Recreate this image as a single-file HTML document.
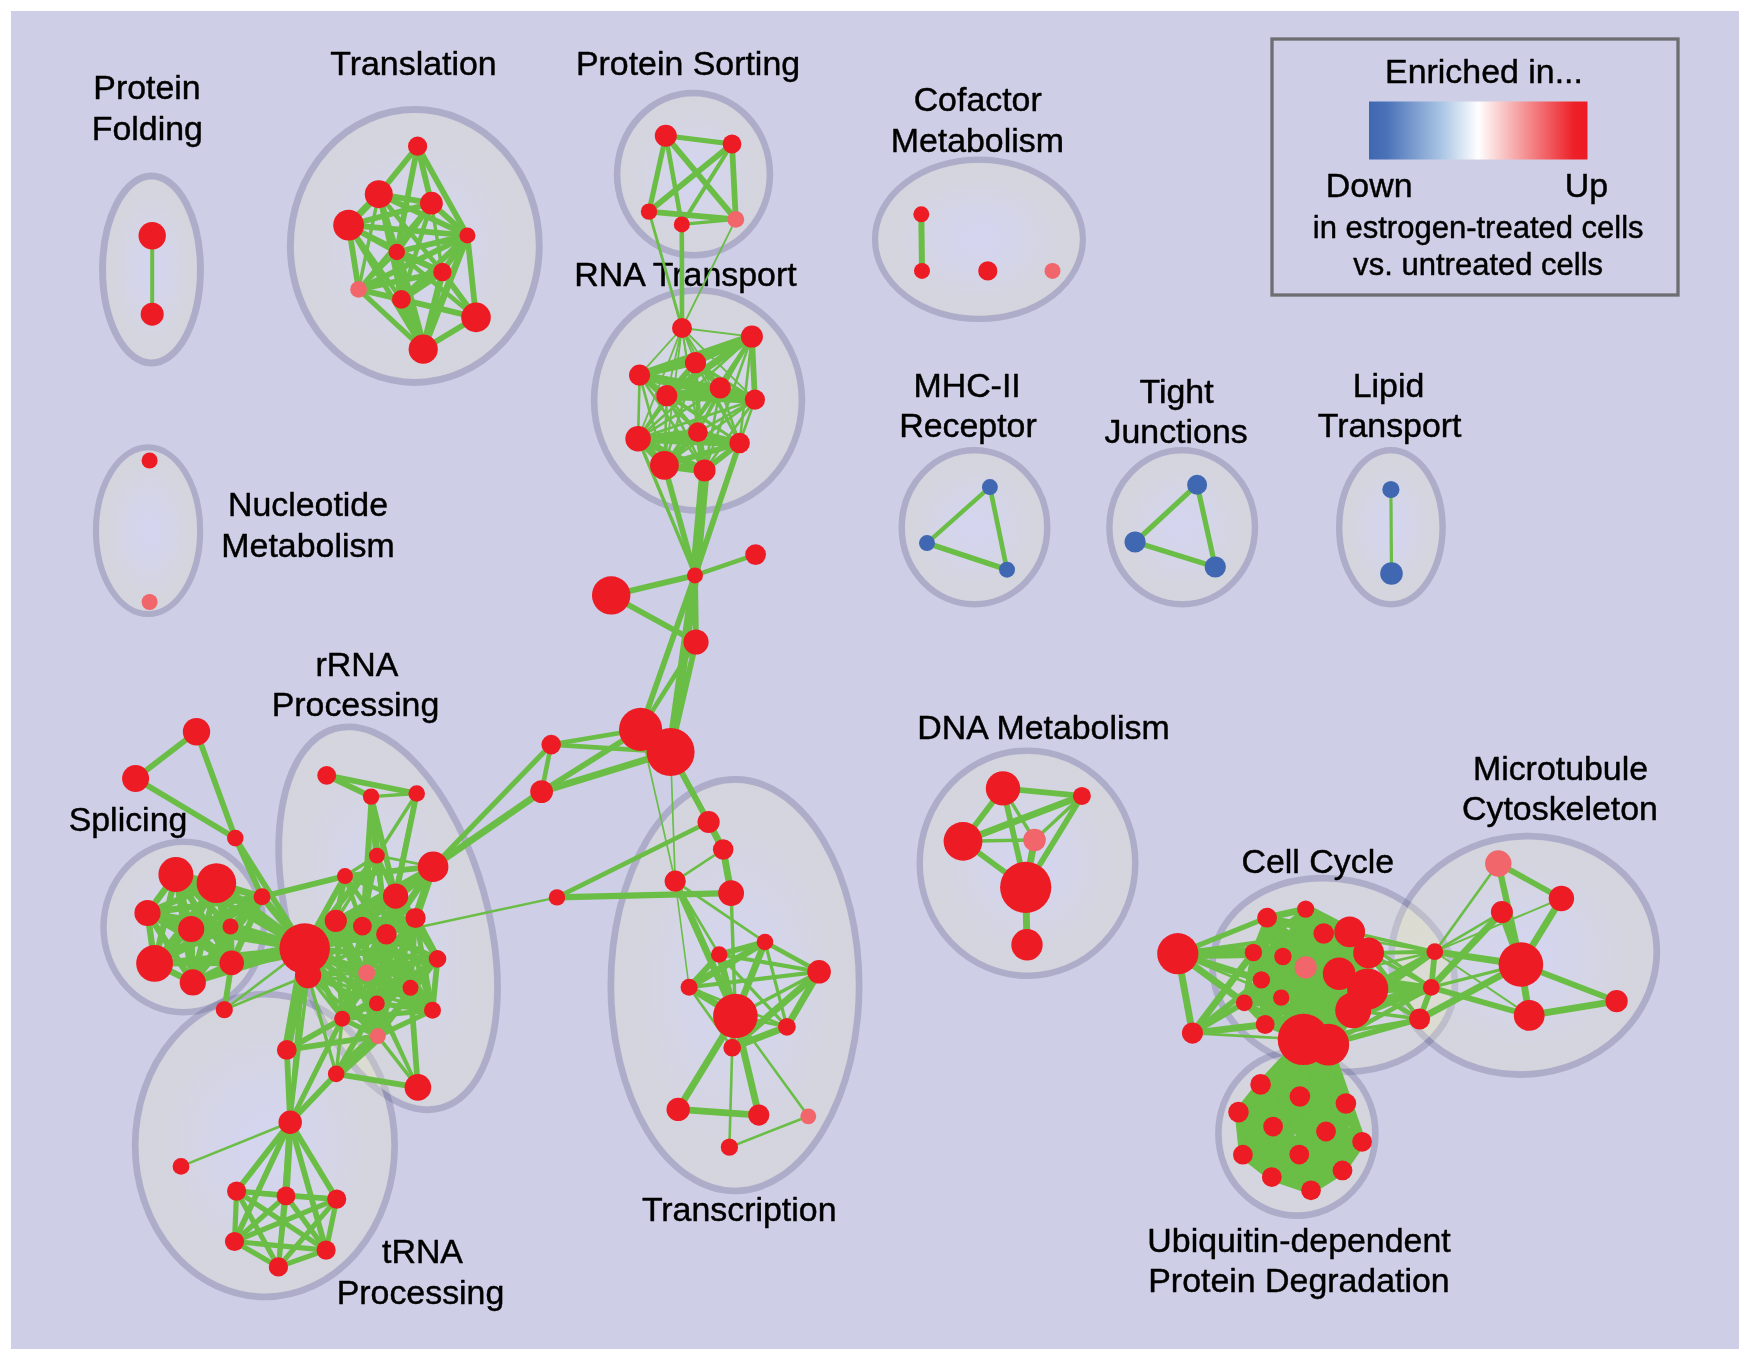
<!DOCTYPE html>
<html><head><meta charset="utf-8"><title>Enrichment map</title>
<style>
html,body{margin:0;padding:0;background:#fff;}
body{width:1750px;height:1360px;overflow:hidden;font-family:"Liberation Sans",sans-serif;}
svg{display:block;will-change:transform;}
</style></head><body>
<svg width="1750" height="1360" viewBox="0 0 1750 1360">
<defs>
<radialGradient id="eg" cx="50%" cy="50%" r="50%">
<stop offset="0" stop-color="#e2e6ff" stop-opacity="0.3"/>
<stop offset="0.2" stop-color="#e2e6ff" stop-opacity="0.3"/>
<stop offset="0.85" stop-color="#e4e4cc" stop-opacity="0.3"/>
<stop offset="1" stop-color="#e4e4cc" stop-opacity="0.3"/>
</radialGradient>
<linearGradient id="lg" x1="0" y1="0" x2="1" y2="0">
<stop offset="0" stop-color="#3f68b1"/>
<stop offset="0.08" stop-color="#4a72b8"/>
<stop offset="0.33" stop-color="#a9c4e4"/>
<stop offset="0.5" stop-color="#ffffff"/>
<stop offset="0.67" stop-color="#f6a9a9"/>
<stop offset="0.94" stop-color="#ed1f27"/>
<stop offset="1" stop-color="#ed1c24"/>
</linearGradient>
</defs>
<rect x="0" y="0" width="1750" height="1360" fill="#ffffff"/>
<rect x="11" y="11" width="1728" height="1338" fill="#cecee6"/>
<g fill="none" stroke="#60608c" stroke-opacity="0.3">
<ellipse cx="151.5" cy="269.5" rx="48.90" ry="93.40" stroke-width="7.0"/>
<ellipse cx="414.8" cy="246.0" rx="124.40" ry="136.40" stroke-width="7.0"/>
<ellipse cx="693.5" cy="174.2" rx="76.35" ry="81.05" stroke-width="6.7"/>
<ellipse cx="698.0" cy="400.4" rx="103.85" ry="110.05" stroke-width="6.7"/>
<ellipse cx="978.95" cy="239.35" rx="103.90" ry="79.60" stroke-width="6.3"/>
<ellipse cx="148.05" cy="530.7" rx="52.05" ry="83.30" stroke-width="6.2"/>
<ellipse cx="974.5" cy="527.3" rx="72.75" ry="76.95" stroke-width="6.5"/>
<ellipse cx="1182.2" cy="527.3" rx="72.75" ry="76.95" stroke-width="6.5"/>
<ellipse cx="1390.9" cy="527.3" rx="51.65" ry="76.95" stroke-width="6.5"/>
<ellipse cx="1027.5" cy="863.2" rx="107.75" ry="112.55" stroke-width="6.5"/>
<ellipse cx="735.0" cy="985.2" rx="124.10" ry="205.70" stroke-width="6.8"/>
<ellipse cx="183.6" cy="927.0" rx="80.05" ry="85.15" stroke-width="6.5"/>
<ellipse cx="388.1" cy="918.3" rx="99.10" ry="196.90" stroke-width="6.9" transform="rotate(-15.76 388.1 918.3)"/>
<ellipse cx="264.9" cy="1145.5" rx="129.70" ry="151.30" stroke-width="6.8"/>
<ellipse cx="1333.7" cy="975.05" rx="122.00" ry="95.90" stroke-width="6.8" transform="rotate(10.6 1333.7 975.05)"/>
<ellipse cx="1524.0" cy="955.3" rx="132.95" ry="118.90" stroke-width="6.8" transform="rotate(-7.8 1524.0 955.3)"/>
<ellipse cx="1296.9" cy="1133.5" rx="78.45" ry="82.05" stroke-width="6.7"/>
</g>
<g fill="url(#eg)" stroke="none">
<ellipse cx="151.5" cy="269.5" rx="45.55" ry="90.05"/>
<ellipse cx="414.8" cy="246.0" rx="121.05" ry="133.05"/>
<ellipse cx="693.5" cy="174.2" rx="73.15" ry="77.85"/>
<ellipse cx="698.0" cy="400.4" rx="100.65" ry="106.85"/>
<ellipse cx="978.95" cy="239.35" rx="100.90" ry="76.60"/>
<ellipse cx="148.05" cy="530.7" rx="49.10" ry="80.35"/>
<ellipse cx="974.5" cy="527.3" rx="69.65" ry="73.85"/>
<ellipse cx="1182.2" cy="527.3" rx="69.65" ry="73.85"/>
<ellipse cx="1390.9" cy="527.3" rx="48.55" ry="73.85"/>
<ellipse cx="1027.5" cy="863.2" rx="104.65" ry="109.45"/>
<ellipse cx="735.0" cy="985.2" rx="120.85" ry="202.45"/>
<ellipse cx="183.6" cy="927.0" rx="76.95" ry="82.05"/>
<ellipse cx="388.1" cy="918.3" rx="95.80" ry="193.60" transform="rotate(-15.76 388.1 918.3)"/>
<ellipse cx="264.9" cy="1145.5" rx="126.45" ry="148.05"/>
<ellipse cx="1333.7" cy="975.05" rx="118.75" ry="92.65" transform="rotate(10.6 1333.7 975.05)"/>
<ellipse cx="1524.0" cy="955.3" rx="129.70" ry="115.65" transform="rotate(-7.8 1524.0 955.3)"/>
<ellipse cx="1296.9" cy="1133.5" rx="75.25" ry="78.85"/>
</g>
<clipPath id="cp0"><ellipse cx="1333.7" cy="975.05" rx="118.60" ry="92.50" transform="rotate(10.6 1333.7 975.05)"/></clipPath>
<g clip-path="url(#cp0)"><ellipse cx="1524.0" cy="955.3" rx="129.55" ry="115.50" transform="rotate(-7.8 1524.0 955.3)" fill="#e8e8a8" fill-opacity="0.14"/></g>
<clipPath id="cp1"><ellipse cx="388.1" cy="918.3" rx="95.65" ry="193.45" transform="rotate(-15.76 388.1 918.3)"/></clipPath>
<g clip-path="url(#cp1)"><ellipse cx="264.9" cy="1145.5" rx="126.30" ry="147.90" fill="#e8e8a8" fill-opacity="0.14"/></g>
<clipPath id="cp2"><ellipse cx="1333.7" cy="975.05" rx="118.60" ry="92.50" transform="rotate(10.6 1333.7 975.05)"/></clipPath>
<g clip-path="url(#cp2)"><ellipse cx="1296.9" cy="1133.5" rx="75.10" ry="78.70" fill="#e8e8a8" fill-opacity="0.14"/></g>
<clipPath id="cp3"><ellipse cx="183.6" cy="927.0" rx="76.80" ry="81.90"/></clipPath>
<g clip-path="url(#cp3)"><ellipse cx="264.9" cy="1145.5" rx="126.30" ry="147.90" fill="#e8e8a8" fill-opacity="0.14"/></g>
<clipPath id="cp4"><ellipse cx="183.6" cy="927.0" rx="76.80" ry="81.90"/></clipPath>
<g clip-path="url(#cp4)"><ellipse cx="388.1" cy="918.3" rx="95.65" ry="193.45" transform="rotate(-15.76 388.1 918.3)" fill="#e8e8a8" fill-opacity="0.14"/></g>
<rect x="1272" y="39" width="406" height="256" fill="none" stroke="#6d6e71" stroke-width="3.3"/>
<rect x="1369" y="101.5" width="218.5" height="58" fill="url(#lg)"/>
<g font-family="'Liberation Sans', sans-serif" fill="#000" stroke="#000" stroke-width="0.45" stroke-linejoin="round" text-anchor="middle">
<text x="147.0" y="99.3" font-size="33.9">Protein</text>
<text x="147.3" y="140.0" font-size="33.9">Folding</text>
<text x="413.5" y="75.0" font-size="33.9">Translation</text>
<text x="688.0" y="75.2" font-size="33.9">Protein Sorting</text>
<text x="977.7" y="110.6" font-size="33.9">Cofactor</text>
<text x="977.3" y="151.7" font-size="33.9">Metabolism</text>
<text x="685.5" y="286.0" font-size="33.9">RNA Transport</text>
<text x="967.1" y="397.0" font-size="33.9">MHC-II</text>
<text x="968.0" y="437.4" font-size="33.9">Receptor</text>
<text x="1176.6" y="402.5" font-size="33.9">Tight</text>
<text x="1176.1" y="443.3" font-size="33.9">Junctions</text>
<text x="1388.5" y="397.0" font-size="33.9">Lipid</text>
<text x="1389.6" y="437.4" font-size="33.9">Transport</text>
<text x="308.0" y="516.0" font-size="33.9">Nucleotide</text>
<text x="308.0" y="556.7" font-size="33.9">Metabolism</text>
<text x="357.0" y="676.0" font-size="33.9">rRNA</text>
<text x="355.5" y="716.0" font-size="33.9">Processing</text>
<text x="128.0" y="830.8" font-size="33.9">Splicing</text>
<text x="1043.5" y="738.5" font-size="33.9">DNA Metabolism</text>
<text x="1560.5" y="780.0" font-size="33.9">Microtubule</text>
<text x="1560.0" y="820.0" font-size="33.9">Cytoskeleton</text>
<text x="1317.8" y="872.7" font-size="33.9">Cell Cycle</text>
<text x="739.2" y="1221.0" font-size="33.9">Transcription</text>
<text x="422.5" y="1263.0" font-size="33.9">tRNA</text>
<text x="420.5" y="1304.0" font-size="33.9">Processing</text>
<text x="1299.0" y="1252.0" font-size="33.9">Ubiquitin-dependent</text>
<text x="1299.0" y="1292.0" font-size="33.9">Protein Degradation</text>
<text x="1484.0" y="83.0" font-size="33.9">Enriched in...</text>
<text x="1369.2" y="197.0" font-size="33.9">Down</text>
<text x="1586.4" y="197.0" font-size="33.9">Up</text>
<text x="1478.2" y="238.0" font-size="31.0">in estrogen-treated cells</text>
<text x="1478.2" y="275.0" font-size="31.0">vs. untreated cells</text>
</g>
<g stroke="#6abd45" stroke-linecap="butt" fill="none">
<path d="M675.2 881.2L689.1 987.3" stroke-width="1.56"/>
<path d="M640.6 729.4L675.2 881.2" stroke-width="1.69"/>
<path d="M670.6 752.0L675.2 881.2" stroke-width="1.69"/>
<path d="M735.8 219.4L682.0 328.0" stroke-width="1.82"/>
<path d="M682.0 328.0L751.9 336.6" stroke-width="1.82"/>
<path d="M682.0 328.0L695.5 362.7" stroke-width="1.82"/>
<path d="M682.0 328.0L639.6 375.2" stroke-width="1.82"/>
<path d="M682.0 328.0L720.3 387.9" stroke-width="1.82"/>
<path d="M682.0 328.0L666.8 395.7" stroke-width="1.82"/>
<path d="M682.0 328.0L754.9 399.7" stroke-width="1.82"/>
<path d="M682.0 328.0L697.9 432.2" stroke-width="1.82"/>
<path d="M682.0 328.0L638.1 438.7" stroke-width="1.82"/>
<path d="M682.0 328.0L739.6 443.0" stroke-width="1.82"/>
<path d="M682.0 328.0L664.4 465.3" stroke-width="1.82"/>
<path d="M682.0 328.0L704.6 470.4" stroke-width="1.82"/>
<path d="M1561.4 898.5L1434.8 951.7" stroke-width="1.95"/>
<path d="M1529.2 1015.4L1434.8 951.7" stroke-width="1.95"/>
<path d="M557.0 897.4L386.4 934.3" stroke-width="2.47"/>
<path d="M751.9 336.6L697.9 432.2" stroke-width="2.60"/>
<path d="M751.9 336.6L638.1 438.7" stroke-width="2.60"/>
<path d="M739.6 443.0L751.9 336.6" stroke-width="2.60"/>
<path d="M664.4 465.3L751.9 336.6" stroke-width="2.60"/>
<path d="M704.6 470.4L751.9 336.6" stroke-width="2.60"/>
<path d="M695.5 362.7L697.9 432.2" stroke-width="2.60"/>
<path d="M695.5 362.7L638.1 438.7" stroke-width="2.60"/>
<path d="M739.6 443.0L695.5 362.7" stroke-width="2.60"/>
<path d="M664.4 465.3L695.5 362.7" stroke-width="2.60"/>
<path d="M704.6 470.4L695.5 362.7" stroke-width="2.60"/>
<path d="M639.6 375.2L697.9 432.2" stroke-width="2.60"/>
<path d="M639.6 375.2L638.1 438.7" stroke-width="2.60"/>
<path d="M739.6 443.0L639.6 375.2" stroke-width="2.60"/>
<path d="M664.4 465.3L639.6 375.2" stroke-width="2.60"/>
<path d="M704.6 470.4L639.6 375.2" stroke-width="2.60"/>
<path d="M720.3 387.9L697.9 432.2" stroke-width="2.60"/>
<path d="M720.3 387.9L638.1 438.7" stroke-width="2.60"/>
<path d="M739.6 443.0L720.3 387.9" stroke-width="2.60"/>
<path d="M664.4 465.3L720.3 387.9" stroke-width="2.60"/>
<path d="M704.6 470.4L720.3 387.9" stroke-width="2.60"/>
<path d="M666.8 395.7L697.9 432.2" stroke-width="2.60"/>
<path d="M666.8 395.7L638.1 438.7" stroke-width="2.60"/>
<path d="M739.6 443.0L666.8 395.7" stroke-width="2.60"/>
<path d="M664.4 465.3L666.8 395.7" stroke-width="2.60"/>
<path d="M704.6 470.4L666.8 395.7" stroke-width="2.60"/>
<path d="M754.9 399.7L697.9 432.2" stroke-width="2.60"/>
<path d="M754.9 399.7L638.1 438.7" stroke-width="2.60"/>
<path d="M739.6 443.0L754.9 399.7" stroke-width="2.60"/>
<path d="M664.4 465.3L754.9 399.7" stroke-width="2.60"/>
<path d="M704.6 470.4L754.9 399.7" stroke-width="2.60"/>
<path d="M723.2 849.5L675.2 881.2" stroke-width="2.60"/>
<path d="M675.2 881.2L719.2 954.5" stroke-width="2.60"/>
<path d="M675.2 881.2L765.0 942.0" stroke-width="2.60"/>
<path d="M732.2 1047.7L689.1 987.3" stroke-width="2.60"/>
<path d="M786.9 1026.8L689.1 987.3" stroke-width="2.60"/>
<path d="M732.2 1047.7L729.4 1147.2" stroke-width="2.60"/>
<path d="M808.3 1116.3L735.4 1016.0" stroke-width="2.60"/>
<path d="M808.3 1116.3L729.4 1147.2" stroke-width="2.60"/>
<path d="M304.7 948.5L224.3 1009.7" stroke-width="2.60"/>
<path d="M308.1 975.3L224.3 1009.7" stroke-width="2.60"/>
<path d="M376.9 855.6L433.1 866.7" stroke-width="2.60"/>
<path d="M366.7 973.1L417.9 1087.4" stroke-width="2.60"/>
<path d="M290.2 1122.3L181.0 1166.4" stroke-width="2.60"/>
<path d="M1498.3 863.5L1434.8 951.7" stroke-width="2.60"/>
<path d="M1501.9 912.1L1434.8 951.7" stroke-width="2.60"/>
<path d="M1177.8 953.7L1281.2 997.6" stroke-width="2.60"/>
<path d="M1192.5 1033.1L1303.4 1039.4" stroke-width="2.60"/>
<path d="M1339.1 973.8L1434.8 951.7" stroke-width="2.60"/>
<path d="M1323.7 933.5L1434.8 951.7" stroke-width="2.60"/>
<path d="M649.0 211.6L682.0 328.0" stroke-width="2.86"/>
<path d="M681.8 224.4L735.8 219.4" stroke-width="3.25"/>
<path d="M786.9 1026.8L765.0 942.0" stroke-width="3.25"/>
<path d="M786.9 1026.8L719.2 954.5" stroke-width="3.25"/>
<path d="M786.9 1026.8L735.4 1016.0" stroke-width="3.25"/>
<path d="M1520.9 964.5L1431.3 987.4" stroke-width="3.25"/>
<path d="M378.8 194.2L358.6 289.4" stroke-width="3.45"/>
<path d="M431.4 203.2L442.4 272.0" stroke-width="3.45"/>
<path d="M695.5 362.7L754.9 399.7" stroke-width="3.45"/>
<path d="M695.0 575.4L638.1 438.7" stroke-width="3.45"/>
<path d="M731.1 893.2L735.4 1016.0" stroke-width="3.45"/>
<path d="M819.1 971.8L735.4 1016.0" stroke-width="3.45"/>
<path d="M371.1 796.6L416.7 793.5" stroke-width="3.45"/>
<path d="M366.7 973.1L371.1 796.6" stroke-width="3.45"/>
<path d="M416.7 793.5L376.9 855.6" stroke-width="3.45"/>
<path d="M376.9 855.6L345.0 876.1" stroke-width="3.45"/>
<path d="M376.9 855.6L335.8 920.8" stroke-width="3.45"/>
<path d="M308.1 975.3L395.6 896.2" stroke-width="3.45"/>
<path d="M308.1 975.3L415.6 918.0" stroke-width="3.45"/>
<path d="M308.1 975.3L335.8 920.8" stroke-width="3.45"/>
<path d="M308.1 975.3L362.4 926.2" stroke-width="3.45"/>
<path d="M308.1 975.3L386.4 934.3" stroke-width="3.45"/>
<path d="M308.1 975.3L437.5 958.9" stroke-width="3.45"/>
<path d="M308.1 975.3L366.7 973.1" stroke-width="3.45"/>
<path d="M308.1 975.3L410.5 987.8" stroke-width="3.45"/>
<path d="M308.1 975.3L376.9 1003.4" stroke-width="3.45"/>
<path d="M308.1 975.3L432.5 1010.3" stroke-width="3.45"/>
<path d="M308.1 975.3L342.2 1018.7" stroke-width="3.45"/>
<path d="M308.1 975.3L377.8 1036.1" stroke-width="3.45"/>
<path d="M308.1 975.3L290.2 1122.3" stroke-width="3.45"/>
<path d="M342.2 1018.7L336.2 1073.9" stroke-width="3.45"/>
<path d="M308.1 975.3L336.2 1073.9" stroke-width="3.45"/>
<path d="M377.8 1036.1L417.9 1087.4" stroke-width="3.45"/>
<path d="M376.9 1003.4L417.9 1087.4" stroke-width="3.45"/>
<path d="M1003.0 788.4L1034.5 840.0" stroke-width="3.45"/>
<path d="M1081.9 795.9L1034.5 840.0" stroke-width="3.45"/>
<path d="M963.0 841.3L1034.5 840.0" stroke-width="3.45"/>
<path d="M1349.7 931.9L1434.8 951.7" stroke-width="3.45"/>
<path d="M1349.7 931.9L1431.3 987.4" stroke-width="3.45"/>
<path d="M1303.4 1039.4L1431.3 987.4" stroke-width="3.45"/>
<path d="M1368.6 952.9L1431.3 987.4" stroke-width="3.45"/>
<path d="M1349.7 931.9L1419.6 1019.0" stroke-width="3.45"/>
<path d="M1353.2 1010.3L1419.6 1019.0" stroke-width="3.45"/>
<path d="M1303.4 1039.4L1419.6 1019.0" stroke-width="3.45"/>
<path d="M1339.1 973.8L1419.6 1019.0" stroke-width="3.45"/>
<path d="M1390.9 489.5L1391.5 573.5" stroke-width="3.20"/>
<path d="M431.4 203.2L358.6 289.4" stroke-width="4.02"/>
<path d="M396.8 252.0L358.6 289.4" stroke-width="4.02"/>
<path d="M732.0 144.0L681.8 224.4" stroke-width="4.02"/>
<path d="M719.2 954.5L819.1 971.8" stroke-width="4.02"/>
<path d="M819.1 971.8L689.1 987.3" stroke-width="4.02"/>
<path d="M1368.6 952.9L1434.8 951.7" stroke-width="4.02"/>
<path d="M1368.6 952.9L1419.6 1019.0" stroke-width="4.02"/>
<path d="M989.9 487.1L927.0 543.1" stroke-width="4.37"/>
<path d="M152.2 235.8L152.2 314.2" stroke-width="4.00"/>
<path d="M378.8 194.2L442.4 272.0" stroke-width="4.60"/>
<path d="M378.8 194.2L401.4 299.4" stroke-width="4.60"/>
<path d="M423.2 349.2L378.8 194.2" stroke-width="4.60"/>
<path d="M431.4 203.2L401.4 299.4" stroke-width="4.60"/>
<path d="M348.6 225.2L442.4 272.0" stroke-width="4.60"/>
<path d="M348.6 225.2L401.4 299.4" stroke-width="4.60"/>
<path d="M476.0 317.4L396.8 252.0" stroke-width="4.60"/>
<path d="M476.0 317.4L358.6 289.4" stroke-width="4.60"/>
<path d="M665.8 135.8L681.8 224.4" stroke-width="4.60"/>
<path d="M681.8 224.4L682.0 328.0" stroke-width="4.60"/>
<path d="M751.9 336.6L720.3 387.9" stroke-width="4.60"/>
<path d="M695.5 362.7L720.3 387.9" stroke-width="4.60"/>
<path d="M695.0 575.4L755.6 554.6" stroke-width="4.60"/>
<path d="M696.0 642.0L640.6 729.4" stroke-width="4.60"/>
<path d="M640.6 729.4L551.2 744.6" stroke-width="4.60"/>
<path d="M670.6 752.0L551.2 744.6" stroke-width="4.60"/>
<path d="M551.2 744.6L541.6 791.6" stroke-width="4.60"/>
<path d="M708.6 822.0L557.0 897.4" stroke-width="4.60"/>
<path d="M765.0 942.0L819.1 971.8" stroke-width="4.60"/>
<path d="M371.1 796.6L362.4 926.2" stroke-width="4.60"/>
<path d="M386.4 934.3L416.7 793.5" stroke-width="4.60"/>
<path d="M362.4 926.2L345.0 876.1" stroke-width="4.60"/>
<path d="M395.6 896.2L345.0 876.1" stroke-width="4.60"/>
<path d="M386.4 934.3L345.0 876.1" stroke-width="4.60"/>
<path d="M376.9 855.6L395.6 896.2" stroke-width="4.60"/>
<path d="M376.9 855.6L362.4 926.2" stroke-width="4.60"/>
<path d="M386.4 934.3L376.9 855.6" stroke-width="4.60"/>
<path d="M308.1 975.3L286.8 1049.9" stroke-width="4.60"/>
<path d="M304.7 948.5L290.2 1122.3" stroke-width="4.60"/>
<path d="M278.4 1266.9L290.2 1122.3" stroke-width="4.60"/>
<path d="M1177.8 953.7L1282.9 956.5" stroke-width="4.60"/>
<path d="M1177.8 953.7L1323.7 933.5" stroke-width="4.60"/>
<path d="M1267.1 917.7L1253.4 952.5" stroke-width="4.60"/>
<path d="M1339.1 973.8L1431.3 987.4" stroke-width="4.60"/>
<path d="M1328.3 1044.6L1431.3 987.4" stroke-width="4.60"/>
<path d="M1367.7 989.0L1419.6 1019.0" stroke-width="4.60"/>
<path d="M989.9 487.1L1007.0 569.7" stroke-width="4.71"/>
<path d="M1267.1 917.7L1323.7 933.5" stroke-width="4.83"/>
<path d="M1267.1 917.7L1349.7 931.9" stroke-width="4.83"/>
<path d="M1267.1 917.7L1368.6 952.9" stroke-width="4.83"/>
<path d="M1267.1 917.7L1305.7 967.4" stroke-width="4.83"/>
<path d="M1267.1 917.7L1339.1 973.8" stroke-width="4.83"/>
<path d="M1267.1 917.7L1367.7 989.0" stroke-width="4.83"/>
<path d="M1267.1 917.7L1353.2 1010.3" stroke-width="4.83"/>
<path d="M1267.1 917.7L1303.4 1039.4" stroke-width="4.83"/>
<path d="M1267.1 917.7L1328.3 1044.6" stroke-width="4.83"/>
<path d="M1305.7 909.1L1253.4 952.5" stroke-width="4.83"/>
<path d="M1323.7 933.5L1253.4 952.5" stroke-width="4.83"/>
<path d="M1349.7 931.9L1253.4 952.5" stroke-width="4.83"/>
<path d="M1368.6 952.9L1253.4 952.5" stroke-width="4.83"/>
<path d="M1253.4 952.5L1305.7 967.4" stroke-width="4.83"/>
<path d="M1253.4 952.5L1339.1 973.8" stroke-width="4.83"/>
<path d="M1367.7 989.0L1253.4 952.5" stroke-width="4.83"/>
<path d="M1353.2 1010.3L1253.4 952.5" stroke-width="4.83"/>
<path d="M1303.4 1039.4L1253.4 952.5" stroke-width="4.83"/>
<path d="M1328.3 1044.6L1253.4 952.5" stroke-width="4.83"/>
<path d="M1305.7 909.1L1282.9 956.5" stroke-width="4.83"/>
<path d="M1323.7 933.5L1282.9 956.5" stroke-width="4.83"/>
<path d="M1349.7 931.9L1282.9 956.5" stroke-width="4.83"/>
<path d="M1368.6 952.9L1282.9 956.5" stroke-width="4.83"/>
<path d="M1282.9 956.5L1305.7 967.4" stroke-width="4.83"/>
<path d="M1282.9 956.5L1339.1 973.8" stroke-width="4.83"/>
<path d="M1367.7 989.0L1282.9 956.5" stroke-width="4.83"/>
<path d="M1353.2 1010.3L1282.9 956.5" stroke-width="4.83"/>
<path d="M1303.4 1039.4L1282.9 956.5" stroke-width="4.83"/>
<path d="M1328.3 1044.6L1282.9 956.5" stroke-width="4.83"/>
<path d="M1261.4 979.9L1305.7 909.1" stroke-width="4.83"/>
<path d="M1261.4 979.9L1323.7 933.5" stroke-width="4.83"/>
<path d="M1261.4 979.9L1349.7 931.9" stroke-width="4.83"/>
<path d="M1261.4 979.9L1368.6 952.9" stroke-width="4.83"/>
<path d="M1261.4 979.9L1305.7 967.4" stroke-width="4.83"/>
<path d="M1261.4 979.9L1339.1 973.8" stroke-width="4.83"/>
<path d="M1367.7 989.0L1261.4 979.9" stroke-width="4.83"/>
<path d="M1261.4 979.9L1353.2 1010.3" stroke-width="4.83"/>
<path d="M1261.4 979.9L1303.4 1039.4" stroke-width="4.83"/>
<path d="M1261.4 979.9L1328.3 1044.6" stroke-width="4.83"/>
<path d="M1281.2 997.6L1305.7 909.1" stroke-width="4.83"/>
<path d="M1281.2 997.6L1323.7 933.5" stroke-width="4.83"/>
<path d="M1281.2 997.6L1349.7 931.9" stroke-width="4.83"/>
<path d="M1281.2 997.6L1368.6 952.9" stroke-width="4.83"/>
<path d="M1281.2 997.6L1305.7 967.4" stroke-width="4.83"/>
<path d="M1281.2 997.6L1339.1 973.8" stroke-width="4.83"/>
<path d="M1367.7 989.0L1281.2 997.6" stroke-width="4.83"/>
<path d="M1281.2 997.6L1353.2 1010.3" stroke-width="4.83"/>
<path d="M1281.2 997.6L1303.4 1039.4" stroke-width="4.83"/>
<path d="M1281.2 997.6L1328.3 1044.6" stroke-width="4.83"/>
<path d="M1244.3 1002.8L1305.7 909.1" stroke-width="4.83"/>
<path d="M1244.3 1002.8L1323.7 933.5" stroke-width="4.83"/>
<path d="M1244.3 1002.8L1349.7 931.9" stroke-width="4.83"/>
<path d="M1244.3 1002.8L1368.6 952.9" stroke-width="4.83"/>
<path d="M1244.3 1002.8L1305.7 967.4" stroke-width="4.83"/>
<path d="M1244.3 1002.8L1339.1 973.8" stroke-width="4.83"/>
<path d="M1367.7 989.0L1244.3 1002.8" stroke-width="4.83"/>
<path d="M1244.3 1002.8L1353.2 1010.3" stroke-width="4.83"/>
<path d="M1244.3 1002.8L1303.4 1039.4" stroke-width="4.83"/>
<path d="M1244.3 1002.8L1328.3 1044.6" stroke-width="4.83"/>
<path d="M1265.2 1024.5L1305.7 909.1" stroke-width="4.83"/>
<path d="M1265.2 1024.5L1323.7 933.5" stroke-width="4.83"/>
<path d="M1265.2 1024.5L1349.7 931.9" stroke-width="4.83"/>
<path d="M1265.2 1024.5L1368.6 952.9" stroke-width="4.83"/>
<path d="M1265.2 1024.5L1305.7 967.4" stroke-width="4.83"/>
<path d="M1265.2 1024.5L1339.1 973.8" stroke-width="4.83"/>
<path d="M1367.7 989.0L1265.2 1024.5" stroke-width="4.83"/>
<path d="M1353.2 1010.3L1265.2 1024.5" stroke-width="4.83"/>
<path d="M1265.2 1024.5L1303.4 1039.4" stroke-width="4.83"/>
<path d="M1265.2 1024.5L1328.3 1044.6" stroke-width="4.83"/>
<path d="M1267.1 917.7L1282.9 956.5" stroke-width="4.83"/>
<path d="M1267.1 917.7L1261.4 979.9" stroke-width="4.83"/>
<path d="M1267.1 917.7L1281.2 997.6" stroke-width="4.83"/>
<path d="M1267.1 917.7L1244.3 1002.8" stroke-width="4.83"/>
<path d="M1267.1 917.7L1265.2 1024.5" stroke-width="4.83"/>
<path d="M1253.4 952.5L1282.9 956.5" stroke-width="4.83"/>
<path d="M1261.4 979.9L1253.4 952.5" stroke-width="4.83"/>
<path d="M1281.2 997.6L1253.4 952.5" stroke-width="4.83"/>
<path d="M1244.3 1002.8L1253.4 952.5" stroke-width="4.83"/>
<path d="M1265.2 1024.5L1253.4 952.5" stroke-width="4.83"/>
<path d="M1261.4 979.9L1282.9 956.5" stroke-width="4.83"/>
<path d="M1281.2 997.6L1282.9 956.5" stroke-width="4.83"/>
<path d="M1244.3 1002.8L1282.9 956.5" stroke-width="4.83"/>
<path d="M1265.2 1024.5L1282.9 956.5" stroke-width="4.83"/>
<path d="M1261.4 979.9L1281.2 997.6" stroke-width="4.83"/>
<path d="M1261.4 979.9L1244.3 1002.8" stroke-width="4.83"/>
<path d="M1261.4 979.9L1265.2 1024.5" stroke-width="4.83"/>
<path d="M1281.2 997.6L1244.3 1002.8" stroke-width="4.83"/>
<path d="M1281.2 997.6L1265.2 1024.5" stroke-width="4.83"/>
<path d="M1244.3 1002.8L1265.2 1024.5" stroke-width="4.83"/>
<path d="M423.2 349.2L348.6 225.2" stroke-width="5.17"/>
<path d="M423.2 349.2L358.6 289.4" stroke-width="5.17"/>
<path d="M665.8 135.8L732.0 144.0" stroke-width="5.17"/>
<path d="M665.8 135.8L649.0 211.6" stroke-width="5.17"/>
<path d="M551.2 744.6L433.1 866.7" stroke-width="5.17"/>
<path d="M395.6 896.2L335.8 920.8" stroke-width="5.17"/>
<path d="M395.6 896.2L362.4 926.2" stroke-width="5.17"/>
<path d="M437.5 958.9L395.6 896.2" stroke-width="5.17"/>
<path d="M366.7 973.1L395.6 896.2" stroke-width="5.17"/>
<path d="M410.5 987.8L395.6 896.2" stroke-width="5.17"/>
<path d="M376.9 1003.4L395.6 896.2" stroke-width="5.17"/>
<path d="M432.5 1010.3L395.6 896.2" stroke-width="5.17"/>
<path d="M342.2 1018.7L395.6 896.2" stroke-width="5.17"/>
<path d="M377.8 1036.1L395.6 896.2" stroke-width="5.17"/>
<path d="M415.6 918.0L335.8 920.8" stroke-width="5.17"/>
<path d="M415.6 918.0L362.4 926.2" stroke-width="5.17"/>
<path d="M366.7 973.1L415.6 918.0" stroke-width="5.17"/>
<path d="M410.5 987.8L415.6 918.0" stroke-width="5.17"/>
<path d="M376.9 1003.4L415.6 918.0" stroke-width="5.17"/>
<path d="M432.5 1010.3L415.6 918.0" stroke-width="5.17"/>
<path d="M342.2 1018.7L415.6 918.0" stroke-width="5.17"/>
<path d="M377.8 1036.1L415.6 918.0" stroke-width="5.17"/>
<path d="M386.4 934.3L335.8 920.8" stroke-width="5.17"/>
<path d="M437.5 958.9L335.8 920.8" stroke-width="5.17"/>
<path d="M366.7 973.1L335.8 920.8" stroke-width="5.17"/>
<path d="M410.5 987.8L335.8 920.8" stroke-width="5.17"/>
<path d="M376.9 1003.4L335.8 920.8" stroke-width="5.17"/>
<path d="M432.5 1010.3L335.8 920.8" stroke-width="5.17"/>
<path d="M342.2 1018.7L335.8 920.8" stroke-width="5.17"/>
<path d="M377.8 1036.1L335.8 920.8" stroke-width="5.17"/>
<path d="M437.5 958.9L362.4 926.2" stroke-width="5.17"/>
<path d="M366.7 973.1L362.4 926.2" stroke-width="5.17"/>
<path d="M410.5 987.8L362.4 926.2" stroke-width="5.17"/>
<path d="M376.9 1003.4L362.4 926.2" stroke-width="5.17"/>
<path d="M432.5 1010.3L362.4 926.2" stroke-width="5.17"/>
<path d="M342.2 1018.7L362.4 926.2" stroke-width="5.17"/>
<path d="M377.8 1036.1L362.4 926.2" stroke-width="5.17"/>
<path d="M386.4 934.3L437.5 958.9" stroke-width="5.17"/>
<path d="M386.4 934.3L366.7 973.1" stroke-width="5.17"/>
<path d="M386.4 934.3L410.5 987.8" stroke-width="5.17"/>
<path d="M386.4 934.3L376.9 1003.4" stroke-width="5.17"/>
<path d="M386.4 934.3L432.5 1010.3" stroke-width="5.17"/>
<path d="M386.4 934.3L342.2 1018.7" stroke-width="5.17"/>
<path d="M386.4 934.3L377.8 1036.1" stroke-width="5.17"/>
<path d="M437.5 958.9L366.7 973.1" stroke-width="5.17"/>
<path d="M437.5 958.9L376.9 1003.4" stroke-width="5.17"/>
<path d="M437.5 958.9L342.2 1018.7" stroke-width="5.17"/>
<path d="M437.5 958.9L377.8 1036.1" stroke-width="5.17"/>
<path d="M366.7 973.1L410.5 987.8" stroke-width="5.17"/>
<path d="M366.7 973.1L376.9 1003.4" stroke-width="5.17"/>
<path d="M366.7 973.1L432.5 1010.3" stroke-width="5.17"/>
<path d="M366.7 973.1L342.2 1018.7" stroke-width="5.17"/>
<path d="M366.7 973.1L377.8 1036.1" stroke-width="5.17"/>
<path d="M410.5 987.8L376.9 1003.4" stroke-width="5.17"/>
<path d="M410.5 987.8L342.2 1018.7" stroke-width="5.17"/>
<path d="M410.5 987.8L377.8 1036.1" stroke-width="5.17"/>
<path d="M376.9 1003.4L432.5 1010.3" stroke-width="5.17"/>
<path d="M376.9 1003.4L342.2 1018.7" stroke-width="5.17"/>
<path d="M376.9 1003.4L377.8 1036.1" stroke-width="5.17"/>
<path d="M432.5 1010.3L342.2 1018.7" stroke-width="5.17"/>
<path d="M432.5 1010.3L377.8 1036.1" stroke-width="5.17"/>
<path d="M342.2 1018.7L377.8 1036.1" stroke-width="5.17"/>
<path d="M342.2 1018.7L290.2 1122.3" stroke-width="5.17"/>
<path d="M236.6 1191.1L286.0 1195.9" stroke-width="5.17"/>
<path d="M236.6 1191.1L336.7 1199.1" stroke-width="5.17"/>
<path d="M236.6 1191.1L234.5 1241.5" stroke-width="5.17"/>
<path d="M236.6 1191.1L326.1 1250.1" stroke-width="5.17"/>
<path d="M278.4 1266.9L236.6 1191.1" stroke-width="5.17"/>
<path d="M286.0 1195.9L336.7 1199.1" stroke-width="5.17"/>
<path d="M286.0 1195.9L234.5 1241.5" stroke-width="5.17"/>
<path d="M286.0 1195.9L326.1 1250.1" stroke-width="5.17"/>
<path d="M278.4 1266.9L286.0 1195.9" stroke-width="5.17"/>
<path d="M336.7 1199.1L234.5 1241.5" stroke-width="5.17"/>
<path d="M336.7 1199.1L326.1 1250.1" stroke-width="5.17"/>
<path d="M278.4 1266.9L336.7 1199.1" stroke-width="5.17"/>
<path d="M234.5 1241.5L326.1 1250.1" stroke-width="5.17"/>
<path d="M278.4 1266.9L234.5 1241.5" stroke-width="5.17"/>
<path d="M278.4 1266.9L326.1 1250.1" stroke-width="5.17"/>
<path d="M1197.1 484.7L1135.1 542.0" stroke-width="5.17"/>
<path d="M1135.1 542.0L1215.3 567.0" stroke-width="5.17"/>
<path d="M1197.1 484.7L1215.3 567.0" stroke-width="5.17"/>
<path d="M1177.8 953.7L1267.1 917.7" stroke-width="5.17"/>
<path d="M927.0 543.1L1007.0 569.7" stroke-width="5.52"/>
<path d="M417.6 146.2L378.8 194.2" stroke-width="5.75"/>
<path d="M417.6 146.2L431.4 203.2" stroke-width="5.75"/>
<path d="M417.6 146.2L396.8 252.0" stroke-width="5.75"/>
<path d="M417.6 146.2L467.4 235.4" stroke-width="5.75"/>
<path d="M378.8 194.2L431.4 203.2" stroke-width="5.75"/>
<path d="M378.8 194.2L467.4 235.4" stroke-width="5.75"/>
<path d="M378.8 194.2L396.8 252.0" stroke-width="5.75"/>
<path d="M431.4 203.2L348.6 225.2" stroke-width="5.75"/>
<path d="M431.4 203.2L467.4 235.4" stroke-width="5.75"/>
<path d="M431.4 203.2L396.8 252.0" stroke-width="5.75"/>
<path d="M348.6 225.2L467.4 235.4" stroke-width="5.75"/>
<path d="M348.6 225.2L396.8 252.0" stroke-width="5.75"/>
<path d="M348.6 225.2L358.6 289.4" stroke-width="5.75"/>
<path d="M467.4 235.4L396.8 252.0" stroke-width="5.75"/>
<path d="M467.4 235.4L442.4 272.0" stroke-width="5.75"/>
<path d="M467.4 235.4L358.6 289.4" stroke-width="5.75"/>
<path d="M467.4 235.4L401.4 299.4" stroke-width="5.75"/>
<path d="M476.0 317.4L467.4 235.4" stroke-width="5.75"/>
<path d="M396.8 252.0L442.4 272.0" stroke-width="5.75"/>
<path d="M442.4 272.0L358.6 289.4" stroke-width="5.75"/>
<path d="M476.0 317.4L442.4 272.0" stroke-width="5.75"/>
<path d="M358.6 289.4L401.4 299.4" stroke-width="5.75"/>
<path d="M476.0 317.4L401.4 299.4" stroke-width="5.75"/>
<path d="M476.0 317.4L423.2 349.2" stroke-width="5.75"/>
<path d="M665.8 135.8L735.8 219.4" stroke-width="5.75"/>
<path d="M732.0 144.0L649.0 211.6" stroke-width="5.75"/>
<path d="M732.0 144.0L735.8 219.4" stroke-width="5.75"/>
<path d="M649.0 211.6L735.8 219.4" stroke-width="5.75"/>
<path d="M751.9 336.6L695.5 362.7" stroke-width="5.75"/>
<path d="M751.9 336.6L754.9 399.7" stroke-width="5.75"/>
<path d="M695.5 362.7L639.6 375.2" stroke-width="5.75"/>
<path d="M639.6 375.2L666.8 395.7" stroke-width="5.75"/>
<path d="M639.6 375.2L720.3 387.9" stroke-width="5.75"/>
<path d="M695.5 362.7L666.8 395.7" stroke-width="5.75"/>
<path d="M739.6 443.0L697.9 432.2" stroke-width="5.75"/>
<path d="M664.4 465.3L697.9 432.2" stroke-width="5.75"/>
<path d="M739.6 443.0L664.4 465.3" stroke-width="5.75"/>
<path d="M739.6 443.0L704.6 470.4" stroke-width="5.75"/>
<path d="M695.0 575.4L664.4 465.3" stroke-width="5.75"/>
<path d="M695.0 575.4L739.6 443.0" stroke-width="5.75"/>
<path d="M695.0 575.4L611.2 595.4" stroke-width="5.75"/>
<path d="M611.2 595.4L696.0 642.0" stroke-width="5.75"/>
<path d="M695.0 575.4L696.0 642.0" stroke-width="5.75"/>
<path d="M695.0 575.4L640.6 729.4" stroke-width="5.75"/>
<path d="M696.0 642.0L670.6 752.0" stroke-width="5.75"/>
<path d="M640.6 729.4L541.6 791.6" stroke-width="5.75"/>
<path d="M670.6 752.0L708.6 822.0" stroke-width="5.75"/>
<path d="M670.6 752.0L723.2 849.5" stroke-width="5.75"/>
<path d="M765.0 942.0L719.2 954.5" stroke-width="5.75"/>
<path d="M719.2 954.5L689.1 987.3" stroke-width="5.75"/>
<path d="M732.2 1047.7L735.4 1016.0" stroke-width="5.75"/>
<path d="M196.5 731.7L135.6 778.5" stroke-width="5.75"/>
<path d="M196.5 731.7L235.3 838.1" stroke-width="5.75"/>
<path d="M135.6 778.5L235.3 838.1" stroke-width="5.75"/>
<path d="M262.0 896.8L235.3 838.1" stroke-width="5.75"/>
<path d="M304.7 948.5L235.3 838.1" stroke-width="5.75"/>
<path d="M304.7 948.5L175.9 874.5" stroke-width="5.75"/>
<path d="M304.7 948.5L192.8 982.4" stroke-width="5.75"/>
<path d="M304.7 948.5L154.6 963.4" stroke-width="5.75"/>
<path d="M304.7 948.5L147.5 913.0" stroke-width="5.75"/>
<path d="M262.0 896.8L345.0 876.1" stroke-width="5.75"/>
<path d="M224.3 1009.7L231.7 962.9" stroke-width="5.75"/>
<path d="M326.7 775.4L371.1 796.6" stroke-width="5.75"/>
<path d="M326.7 775.4L416.7 793.5" stroke-width="5.75"/>
<path d="M371.1 796.6L395.6 896.2" stroke-width="5.75"/>
<path d="M386.4 934.3L371.1 796.6" stroke-width="5.75"/>
<path d="M416.7 793.5L395.6 896.2" stroke-width="5.75"/>
<path d="M433.1 866.7L345.0 876.1" stroke-width="5.75"/>
<path d="M433.1 866.7L335.8 920.8" stroke-width="5.75"/>
<path d="M433.1 866.7L362.4 926.2" stroke-width="5.75"/>
<path d="M335.8 920.8L345.0 876.1" stroke-width="5.75"/>
<path d="M437.5 958.9L432.5 1010.3" stroke-width="5.75"/>
<path d="M437.5 958.9L410.5 987.8" stroke-width="5.75"/>
<path d="M410.5 987.8L432.5 1010.3" stroke-width="5.75"/>
<path d="M335.8 920.8L362.4 926.2" stroke-width="5.75"/>
<path d="M386.4 934.3L362.4 926.2" stroke-width="5.75"/>
<path d="M286.8 1049.9L290.2 1122.3" stroke-width="5.75"/>
<path d="M342.2 1018.7L286.8 1049.9" stroke-width="5.75"/>
<path d="M377.8 1036.1L286.8 1049.9" stroke-width="5.75"/>
<path d="M336.2 1073.9L290.2 1122.3" stroke-width="5.75"/>
<path d="M376.9 1003.4L336.2 1073.9" stroke-width="5.75"/>
<path d="M417.9 1087.4L336.2 1073.9" stroke-width="5.75"/>
<path d="M410.5 987.8L417.9 1087.4" stroke-width="5.75"/>
<path d="M290.2 1122.3L236.6 1191.1" stroke-width="5.75"/>
<path d="M290.2 1122.3L336.7 1199.1" stroke-width="5.75"/>
<path d="M290.2 1122.3L234.5 1241.5" stroke-width="5.75"/>
<path d="M290.2 1122.3L326.1 1250.1" stroke-width="5.75"/>
<path d="M1003.0 788.4L1081.9 795.9" stroke-width="5.75"/>
<path d="M1003.0 788.4L963.0 841.3" stroke-width="5.75"/>
<path d="M1003.0 788.4L1025.7 887.4" stroke-width="5.75"/>
<path d="M1081.9 795.9L1025.7 887.4" stroke-width="5.75"/>
<path d="M963.0 841.3L1025.7 887.4" stroke-width="5.75"/>
<path d="M1498.3 863.5L1561.4 898.5" stroke-width="5.75"/>
<path d="M1529.2 1015.4L1431.3 987.4" stroke-width="5.75"/>
<path d="M1520.9 964.5L1616.6 1001.2" stroke-width="5.75"/>
<path d="M1434.8 951.7L1431.3 987.4" stroke-width="5.75"/>
<path d="M1431.3 987.4L1419.6 1019.0" stroke-width="5.75"/>
<path d="M1192.5 1033.1L1261.4 979.9" stroke-width="5.75"/>
<path d="M1192.5 1033.1L1244.3 1002.8" stroke-width="5.75"/>
<path d="M1367.7 989.0L1434.8 951.7" stroke-width="5.75"/>
<path d="M1353.2 1010.3L1434.8 951.7" stroke-width="5.75"/>
<path d="M1328.3 1044.6L1419.6 1019.0" stroke-width="5.75"/>
<path d="M304.7 948.5L395.6 896.2" stroke-width="5.98"/>
<path d="M304.7 948.5L415.6 918.0" stroke-width="5.98"/>
<path d="M304.7 948.5L335.8 920.8" stroke-width="5.98"/>
<path d="M304.7 948.5L362.4 926.2" stroke-width="5.98"/>
<path d="M304.7 948.5L386.4 934.3" stroke-width="5.98"/>
<path d="M304.7 948.5L437.5 958.9" stroke-width="5.98"/>
<path d="M304.7 948.5L366.7 973.1" stroke-width="5.98"/>
<path d="M304.7 948.5L410.5 987.8" stroke-width="5.98"/>
<path d="M304.7 948.5L376.9 1003.4" stroke-width="5.98"/>
<path d="M304.7 948.5L432.5 1010.3" stroke-width="5.98"/>
<path d="M304.7 948.5L342.2 1018.7" stroke-width="5.98"/>
<path d="M304.7 948.5L377.8 1036.1" stroke-width="5.98"/>
<path d="M304.7 948.5L433.1 866.7" stroke-width="5.98"/>
<path d="M304.7 948.5L345.0 876.1" stroke-width="5.98"/>
<path d="M304.7 948.5L376.9 855.6" stroke-width="5.98"/>
<path d="M731.1 893.2L557.0 897.4" stroke-width="6.32"/>
<path d="M175.9 874.5L216.4 883.1" stroke-width="6.32"/>
<path d="M175.9 874.5L262.0 896.8" stroke-width="6.32"/>
<path d="M175.9 874.5L147.5 913.0" stroke-width="6.32"/>
<path d="M175.9 874.5L191.2 929.0" stroke-width="6.32"/>
<path d="M175.9 874.5L230.5 926.5" stroke-width="6.32"/>
<path d="M175.9 874.5L154.6 963.4" stroke-width="6.32"/>
<path d="M175.9 874.5L231.7 962.9" stroke-width="6.32"/>
<path d="M175.9 874.5L192.8 982.4" stroke-width="6.32"/>
<path d="M216.4 883.1L262.0 896.8" stroke-width="6.32"/>
<path d="M216.4 883.1L147.5 913.0" stroke-width="6.32"/>
<path d="M216.4 883.1L191.2 929.0" stroke-width="6.32"/>
<path d="M216.4 883.1L230.5 926.5" stroke-width="6.32"/>
<path d="M216.4 883.1L154.6 963.4" stroke-width="6.32"/>
<path d="M216.4 883.1L231.7 962.9" stroke-width="6.32"/>
<path d="M216.4 883.1L192.8 982.4" stroke-width="6.32"/>
<path d="M262.0 896.8L147.5 913.0" stroke-width="6.32"/>
<path d="M262.0 896.8L191.2 929.0" stroke-width="6.32"/>
<path d="M262.0 896.8L230.5 926.5" stroke-width="6.32"/>
<path d="M262.0 896.8L154.6 963.4" stroke-width="6.32"/>
<path d="M262.0 896.8L231.7 962.9" stroke-width="6.32"/>
<path d="M262.0 896.8L192.8 982.4" stroke-width="6.32"/>
<path d="M147.5 913.0L191.2 929.0" stroke-width="6.32"/>
<path d="M147.5 913.0L230.5 926.5" stroke-width="6.32"/>
<path d="M147.5 913.0L154.6 963.4" stroke-width="6.32"/>
<path d="M147.5 913.0L231.7 962.9" stroke-width="6.32"/>
<path d="M147.5 913.0L192.8 982.4" stroke-width="6.32"/>
<path d="M191.2 929.0L230.5 926.5" stroke-width="6.32"/>
<path d="M191.2 929.0L154.6 963.4" stroke-width="6.32"/>
<path d="M191.2 929.0L231.7 962.9" stroke-width="6.32"/>
<path d="M191.2 929.0L192.8 982.4" stroke-width="6.32"/>
<path d="M230.5 926.5L154.6 963.4" stroke-width="6.32"/>
<path d="M230.5 926.5L231.7 962.9" stroke-width="6.32"/>
<path d="M230.5 926.5L192.8 982.4" stroke-width="6.32"/>
<path d="M154.6 963.4L231.7 962.9" stroke-width="6.32"/>
<path d="M154.6 963.4L192.8 982.4" stroke-width="6.32"/>
<path d="M231.7 962.9L192.8 982.4" stroke-width="6.32"/>
<path d="M1498.3 863.5L1520.9 964.5" stroke-width="6.32"/>
<path d="M378.8 194.2L348.6 225.2" stroke-width="6.90"/>
<path d="M423.2 349.2L467.4 235.4" stroke-width="6.90"/>
<path d="M442.4 272.0L401.4 299.4" stroke-width="6.90"/>
<path d="M423.2 349.2L442.4 272.0" stroke-width="6.90"/>
<path d="M423.2 349.2L401.4 299.4" stroke-width="6.90"/>
<path d="M751.9 336.6L666.8 395.7" stroke-width="6.90"/>
<path d="M720.3 387.9L666.8 395.7" stroke-width="6.90"/>
<path d="M720.3 387.9L754.9 399.7" stroke-width="6.90"/>
<path d="M697.9 432.2L638.1 438.7" stroke-width="6.90"/>
<path d="M664.4 465.3L638.1 438.7" stroke-width="6.90"/>
<path d="M704.6 470.4L638.1 438.7" stroke-width="6.90"/>
<path d="M704.6 470.4L697.9 432.2" stroke-width="6.90"/>
<path d="M670.6 752.0L541.6 791.6" stroke-width="6.90"/>
<path d="M541.6 791.6L433.1 866.7" stroke-width="6.90"/>
<path d="M708.6 822.0L723.2 849.5" stroke-width="6.90"/>
<path d="M723.2 849.5L731.1 893.2" stroke-width="6.90"/>
<path d="M675.2 881.2L735.4 1016.0" stroke-width="6.90"/>
<path d="M765.0 942.0L689.1 987.3" stroke-width="6.90"/>
<path d="M765.0 942.0L735.4 1016.0" stroke-width="6.90"/>
<path d="M719.2 954.5L735.4 1016.0" stroke-width="6.90"/>
<path d="M732.2 1047.7L819.1 971.8" stroke-width="6.90"/>
<path d="M786.9 1026.8L819.1 971.8" stroke-width="6.90"/>
<path d="M689.1 987.3L735.4 1016.0" stroke-width="6.90"/>
<path d="M786.9 1026.8L732.2 1047.7" stroke-width="6.90"/>
<path d="M678.2 1109.4L735.4 1016.0" stroke-width="6.90"/>
<path d="M758.8 1115.1L735.4 1016.0" stroke-width="6.90"/>
<path d="M678.2 1109.4L758.8 1115.1" stroke-width="6.90"/>
<path d="M304.7 948.5L262.0 896.8" stroke-width="6.90"/>
<path d="M304.7 948.5L191.2 929.0" stroke-width="6.90"/>
<path d="M371.1 796.6L376.9 855.6" stroke-width="6.90"/>
<path d="M386.4 934.3L433.1 866.7" stroke-width="6.90"/>
<path d="M386.4 934.3L415.6 918.0" stroke-width="6.90"/>
<path d="M395.6 896.2L415.6 918.0" stroke-width="6.90"/>
<path d="M386.4 934.3L395.6 896.2" stroke-width="6.90"/>
<path d="M290.2 1122.3L286.0 1195.9" stroke-width="6.90"/>
<path d="M921.3 214.3L922.0 270.9" stroke-width="6.00"/>
<path d="M1081.9 795.9L963.0 841.3" stroke-width="6.90"/>
<path d="M1034.5 840.0L1025.7 887.4" stroke-width="6.90"/>
<path d="M1025.7 887.4L1027.0 944.8" stroke-width="6.90"/>
<path d="M1561.4 898.5L1520.9 964.5" stroke-width="6.90"/>
<path d="M1501.9 912.1L1431.3 987.4" stroke-width="6.90"/>
<path d="M1520.9 964.5L1434.8 951.7" stroke-width="6.90"/>
<path d="M1520.9 964.5L1419.6 1019.0" stroke-width="6.90"/>
<path d="M1520.9 964.5L1529.2 1015.4" stroke-width="6.90"/>
<path d="M1616.6 1001.2L1529.2 1015.4" stroke-width="6.90"/>
<path d="M1177.8 953.7L1261.4 979.9" stroke-width="6.90"/>
<path d="M1177.8 953.7L1244.3 1002.8" stroke-width="6.90"/>
<path d="M1177.8 953.7L1192.5 1033.1" stroke-width="6.90"/>
<path d="M1192.5 1033.1L1253.4 952.5" stroke-width="6.90"/>
<path d="M1192.5 1033.1L1265.2 1024.5" stroke-width="6.90"/>
<path d="M1267.1 917.7L1305.7 909.1" stroke-width="6.90"/>
<path d="M437.5 958.9L415.6 918.0" stroke-width="7.47"/>
<path d="M1260.6 1084.4L1299.9 1096.5" stroke-width="7.82"/>
<path d="M1260.6 1084.4L1345.9 1103.5" stroke-width="7.82"/>
<path d="M1260.6 1084.4L1238.5 1112.1" stroke-width="7.82"/>
<path d="M1260.6 1084.4L1273.1 1126.6" stroke-width="7.82"/>
<path d="M1260.6 1084.4L1326.0 1131.5" stroke-width="7.82"/>
<path d="M1260.6 1084.4L1362.1 1141.8" stroke-width="7.82"/>
<path d="M1260.6 1084.4L1242.9 1154.7" stroke-width="7.82"/>
<path d="M1260.6 1084.4L1299.3 1154.6" stroke-width="7.82"/>
<path d="M1260.6 1084.4L1342.5 1170.4" stroke-width="7.82"/>
<path d="M1260.6 1084.4L1271.8 1177.1" stroke-width="7.82"/>
<path d="M1260.6 1084.4L1311.0 1190.3" stroke-width="7.82"/>
<path d="M1303.4 1039.4L1260.6 1084.4" stroke-width="7.82"/>
<path d="M1328.3 1044.6L1260.6 1084.4" stroke-width="7.82"/>
<path d="M1299.9 1096.5L1345.9 1103.5" stroke-width="7.82"/>
<path d="M1299.9 1096.5L1238.5 1112.1" stroke-width="7.82"/>
<path d="M1299.9 1096.5L1273.1 1126.6" stroke-width="7.82"/>
<path d="M1299.9 1096.5L1326.0 1131.5" stroke-width="7.82"/>
<path d="M1299.9 1096.5L1362.1 1141.8" stroke-width="7.82"/>
<path d="M1299.9 1096.5L1242.9 1154.7" stroke-width="7.82"/>
<path d="M1299.9 1096.5L1299.3 1154.6" stroke-width="7.82"/>
<path d="M1342.5 1170.4L1299.9 1096.5" stroke-width="7.82"/>
<path d="M1271.8 1177.1L1299.9 1096.5" stroke-width="7.82"/>
<path d="M1311.0 1190.3L1299.9 1096.5" stroke-width="7.82"/>
<path d="M1303.4 1039.4L1299.9 1096.5" stroke-width="7.82"/>
<path d="M1328.3 1044.6L1299.9 1096.5" stroke-width="7.82"/>
<path d="M1345.9 1103.5L1238.5 1112.1" stroke-width="7.82"/>
<path d="M1345.9 1103.5L1273.1 1126.6" stroke-width="7.82"/>
<path d="M1345.9 1103.5L1326.0 1131.5" stroke-width="7.82"/>
<path d="M1345.9 1103.5L1362.1 1141.8" stroke-width="7.82"/>
<path d="M1345.9 1103.5L1242.9 1154.7" stroke-width="7.82"/>
<path d="M1345.9 1103.5L1299.3 1154.6" stroke-width="7.82"/>
<path d="M1342.5 1170.4L1345.9 1103.5" stroke-width="7.82"/>
<path d="M1271.8 1177.1L1345.9 1103.5" stroke-width="7.82"/>
<path d="M1311.0 1190.3L1345.9 1103.5" stroke-width="7.82"/>
<path d="M1303.4 1039.4L1345.9 1103.5" stroke-width="7.82"/>
<path d="M1328.3 1044.6L1345.9 1103.5" stroke-width="7.82"/>
<path d="M1238.5 1112.1L1273.1 1126.6" stroke-width="7.82"/>
<path d="M1238.5 1112.1L1326.0 1131.5" stroke-width="7.82"/>
<path d="M1238.5 1112.1L1362.1 1141.8" stroke-width="7.82"/>
<path d="M1238.5 1112.1L1242.9 1154.7" stroke-width="7.82"/>
<path d="M1238.5 1112.1L1299.3 1154.6" stroke-width="7.82"/>
<path d="M1342.5 1170.4L1238.5 1112.1" stroke-width="7.82"/>
<path d="M1271.8 1177.1L1238.5 1112.1" stroke-width="7.82"/>
<path d="M1311.0 1190.3L1238.5 1112.1" stroke-width="7.82"/>
<path d="M1303.4 1039.4L1238.5 1112.1" stroke-width="7.82"/>
<path d="M1328.3 1044.6L1238.5 1112.1" stroke-width="7.82"/>
<path d="M1273.1 1126.6L1326.0 1131.5" stroke-width="7.82"/>
<path d="M1273.1 1126.6L1362.1 1141.8" stroke-width="7.82"/>
<path d="M1273.1 1126.6L1242.9 1154.7" stroke-width="7.82"/>
<path d="M1273.1 1126.6L1299.3 1154.6" stroke-width="7.82"/>
<path d="M1342.5 1170.4L1273.1 1126.6" stroke-width="7.82"/>
<path d="M1271.8 1177.1L1273.1 1126.6" stroke-width="7.82"/>
<path d="M1311.0 1190.3L1273.1 1126.6" stroke-width="7.82"/>
<path d="M1303.4 1039.4L1273.1 1126.6" stroke-width="7.82"/>
<path d="M1328.3 1044.6L1273.1 1126.6" stroke-width="7.82"/>
<path d="M1326.0 1131.5L1362.1 1141.8" stroke-width="7.82"/>
<path d="M1326.0 1131.5L1242.9 1154.7" stroke-width="7.82"/>
<path d="M1326.0 1131.5L1299.3 1154.6" stroke-width="7.82"/>
<path d="M1342.5 1170.4L1326.0 1131.5" stroke-width="7.82"/>
<path d="M1271.8 1177.1L1326.0 1131.5" stroke-width="7.82"/>
<path d="M1311.0 1190.3L1326.0 1131.5" stroke-width="7.82"/>
<path d="M1303.4 1039.4L1326.0 1131.5" stroke-width="7.82"/>
<path d="M1328.3 1044.6L1326.0 1131.5" stroke-width="7.82"/>
<path d="M1362.1 1141.8L1242.9 1154.7" stroke-width="7.82"/>
<path d="M1362.1 1141.8L1299.3 1154.6" stroke-width="7.82"/>
<path d="M1342.5 1170.4L1362.1 1141.8" stroke-width="7.82"/>
<path d="M1271.8 1177.1L1362.1 1141.8" stroke-width="7.82"/>
<path d="M1311.0 1190.3L1362.1 1141.8" stroke-width="7.82"/>
<path d="M1303.4 1039.4L1362.1 1141.8" stroke-width="7.82"/>
<path d="M1328.3 1044.6L1362.1 1141.8" stroke-width="7.82"/>
<path d="M1242.9 1154.7L1299.3 1154.6" stroke-width="7.82"/>
<path d="M1342.5 1170.4L1242.9 1154.7" stroke-width="7.82"/>
<path d="M1271.8 1177.1L1242.9 1154.7" stroke-width="7.82"/>
<path d="M1311.0 1190.3L1242.9 1154.7" stroke-width="7.82"/>
<path d="M1303.4 1039.4L1242.9 1154.7" stroke-width="7.82"/>
<path d="M1328.3 1044.6L1242.9 1154.7" stroke-width="7.82"/>
<path d="M1342.5 1170.4L1299.3 1154.6" stroke-width="7.82"/>
<path d="M1271.8 1177.1L1299.3 1154.6" stroke-width="7.82"/>
<path d="M1311.0 1190.3L1299.3 1154.6" stroke-width="7.82"/>
<path d="M1303.4 1039.4L1299.3 1154.6" stroke-width="7.82"/>
<path d="M1328.3 1044.6L1299.3 1154.6" stroke-width="7.82"/>
<path d="M1342.5 1170.4L1271.8 1177.1" stroke-width="7.82"/>
<path d="M1342.5 1170.4L1311.0 1190.3" stroke-width="7.82"/>
<path d="M1303.4 1039.4L1342.5 1170.4" stroke-width="7.82"/>
<path d="M1328.3 1044.6L1342.5 1170.4" stroke-width="7.82"/>
<path d="M1271.8 1177.1L1311.0 1190.3" stroke-width="7.82"/>
<path d="M1303.4 1039.4L1271.8 1177.1" stroke-width="7.82"/>
<path d="M1328.3 1044.6L1271.8 1177.1" stroke-width="7.82"/>
<path d="M1303.4 1039.4L1311.0 1190.3" stroke-width="7.82"/>
<path d="M1328.3 1044.6L1311.0 1190.3" stroke-width="7.82"/>
<path d="M396.8 252.0L401.4 299.4" stroke-width="8.05"/>
<path d="M751.9 336.6L639.6 375.2" stroke-width="8.05"/>
<path d="M666.8 395.7L754.9 399.7" stroke-width="8.05"/>
<path d="M739.6 443.0L638.1 438.7" stroke-width="8.05"/>
<path d="M664.4 465.3L704.6 470.4" stroke-width="8.05"/>
<path d="M433.1 866.7L415.6 918.0" stroke-width="8.05"/>
<path d="M1501.9 912.1L1520.9 964.5" stroke-width="8.05"/>
<path d="M423.2 349.2L396.8 252.0" stroke-width="9.20"/>
<path d="M639.6 375.2L754.9 399.7" stroke-width="9.20"/>
<path d="M695.0 575.4L670.6 752.0" stroke-width="9.20"/>
<path d="M304.7 948.5L216.4 883.1" stroke-width="9.20"/>
<path d="M304.7 948.5L230.5 926.5" stroke-width="9.20"/>
<path d="M1367.7 989.0L1431.3 987.4" stroke-width="9.20"/>
<path d="M304.7 948.5L286.8 1049.9" stroke-width="9.77"/>
<path d="M695.0 575.4L704.6 470.4" stroke-width="10.35"/>
<path d="M433.1 866.7L395.6 896.2" stroke-width="10.35"/>
<path d="M1305.7 909.1L1323.7 933.5" stroke-width="10.35"/>
<path d="M1305.7 909.1L1349.7 931.9" stroke-width="10.35"/>
<path d="M1305.7 909.1L1368.6 952.9" stroke-width="10.35"/>
<path d="M1305.7 909.1L1305.7 967.4" stroke-width="10.35"/>
<path d="M1305.7 909.1L1339.1 973.8" stroke-width="10.35"/>
<path d="M1367.7 989.0L1305.7 909.1" stroke-width="10.35"/>
<path d="M1353.2 1010.3L1305.7 909.1" stroke-width="10.35"/>
<path d="M1303.4 1039.4L1305.7 909.1" stroke-width="10.35"/>
<path d="M1328.3 1044.6L1305.7 909.1" stroke-width="10.35"/>
<path d="M1323.7 933.5L1349.7 931.9" stroke-width="10.35"/>
<path d="M1323.7 933.5L1368.6 952.9" stroke-width="10.35"/>
<path d="M1323.7 933.5L1305.7 967.4" stroke-width="10.35"/>
<path d="M1323.7 933.5L1339.1 973.8" stroke-width="10.35"/>
<path d="M1367.7 989.0L1323.7 933.5" stroke-width="10.35"/>
<path d="M1353.2 1010.3L1323.7 933.5" stroke-width="10.35"/>
<path d="M1303.4 1039.4L1323.7 933.5" stroke-width="10.35"/>
<path d="M1328.3 1044.6L1323.7 933.5" stroke-width="10.35"/>
<path d="M1349.7 931.9L1368.6 952.9" stroke-width="10.35"/>
<path d="M1349.7 931.9L1305.7 967.4" stroke-width="10.35"/>
<path d="M1349.7 931.9L1339.1 973.8" stroke-width="10.35"/>
<path d="M1367.7 989.0L1349.7 931.9" stroke-width="10.35"/>
<path d="M1353.2 1010.3L1349.7 931.9" stroke-width="10.35"/>
<path d="M1303.4 1039.4L1349.7 931.9" stroke-width="10.35"/>
<path d="M1328.3 1044.6L1349.7 931.9" stroke-width="10.35"/>
<path d="M1368.6 952.9L1305.7 967.4" stroke-width="10.35"/>
<path d="M1368.6 952.9L1339.1 973.8" stroke-width="10.35"/>
<path d="M1367.7 989.0L1368.6 952.9" stroke-width="10.35"/>
<path d="M1353.2 1010.3L1368.6 952.9" stroke-width="10.35"/>
<path d="M1303.4 1039.4L1368.6 952.9" stroke-width="10.35"/>
<path d="M1328.3 1044.6L1368.6 952.9" stroke-width="10.35"/>
<path d="M1305.7 967.4L1339.1 973.8" stroke-width="10.35"/>
<path d="M1367.7 989.0L1305.7 967.4" stroke-width="10.35"/>
<path d="M1353.2 1010.3L1305.7 967.4" stroke-width="10.35"/>
<path d="M1303.4 1039.4L1305.7 967.4" stroke-width="10.35"/>
<path d="M1328.3 1044.6L1305.7 967.4" stroke-width="10.35"/>
<path d="M1367.7 989.0L1339.1 973.8" stroke-width="10.35"/>
<path d="M1353.2 1010.3L1339.1 973.8" stroke-width="10.35"/>
<path d="M1303.4 1039.4L1339.1 973.8" stroke-width="10.35"/>
<path d="M1328.3 1044.6L1339.1 973.8" stroke-width="10.35"/>
<path d="M1367.7 989.0L1353.2 1010.3" stroke-width="10.35"/>
<path d="M1367.7 989.0L1303.4 1039.4" stroke-width="10.35"/>
<path d="M1367.7 989.0L1328.3 1044.6" stroke-width="10.35"/>
<path d="M1353.2 1010.3L1303.4 1039.4" stroke-width="10.35"/>
<path d="M1353.2 1010.3L1328.3 1044.6" stroke-width="10.35"/>
<path d="M1303.4 1039.4L1328.3 1044.6" stroke-width="10.35"/>
<path d="M1353.2 1010.3L1431.3 987.4" stroke-width="10.35"/>
<path d="M1177.8 953.7L1253.4 952.5" stroke-width="10.92"/>
<path d="M377.8 1036.1L336.2 1073.9" stroke-width="11.50"/>
<path d="M304.7 948.5L231.7 962.9" stroke-width="13.80"/>
</g>
<g>
<circle cx="152.2" cy="235.8" r="13.7" fill="#ed1c24"/>
<circle cx="152.2" cy="314.2" r="11.5" fill="#ed1c24"/>
<circle cx="417.6" cy="146.2" r="9.6" fill="#ed1c24"/>
<circle cx="378.8" cy="194.2" r="14.0" fill="#ed1c24"/>
<circle cx="431.4" cy="203.2" r="11.4" fill="#ed1c24"/>
<circle cx="348.6" cy="225.2" r="15.4" fill="#ed1c24"/>
<circle cx="467.4" cy="235.4" r="8.0" fill="#ed1c24"/>
<circle cx="396.8" cy="252.0" r="8.2" fill="#ed1c24"/>
<circle cx="442.4" cy="272.0" r="9.2" fill="#ed1c24"/>
<circle cx="358.6" cy="289.4" r="8.4" fill="#f0666b"/>
<circle cx="401.4" cy="299.4" r="9.4" fill="#ed1c24"/>
<circle cx="476.0" cy="317.4" r="14.8" fill="#ed1c24"/>
<circle cx="423.2" cy="349.2" r="14.6" fill="#ed1c24"/>
<circle cx="665.8" cy="135.8" r="11.0" fill="#ed1c24"/>
<circle cx="732.0" cy="144.0" r="9.4" fill="#ed1c24"/>
<circle cx="649.0" cy="211.6" r="8.2" fill="#ed1c24"/>
<circle cx="681.8" cy="224.4" r="8.0" fill="#ed1c24"/>
<circle cx="735.8" cy="219.4" r="8.4" fill="#f0666b"/>
<circle cx="682.0" cy="328.0" r="10.0" fill="#ed1c24"/>
<circle cx="751.9" cy="336.6" r="11.0" fill="#ed1c24"/>
<circle cx="695.5" cy="362.7" r="10.6" fill="#ed1c24"/>
<circle cx="639.6" cy="375.2" r="10.6" fill="#ed1c24"/>
<circle cx="720.3" cy="387.9" r="10.6" fill="#ed1c24"/>
<circle cx="666.8" cy="395.7" r="10.6" fill="#ed1c24"/>
<circle cx="754.9" cy="399.7" r="10.1" fill="#ed1c24"/>
<circle cx="697.9" cy="432.2" r="9.9" fill="#ed1c24"/>
<circle cx="638.1" cy="438.7" r="12.8" fill="#ed1c24"/>
<circle cx="739.6" cy="443.0" r="10.3" fill="#ed1c24"/>
<circle cx="664.4" cy="465.3" r="14.4" fill="#ed1c24"/>
<circle cx="704.6" cy="470.4" r="11.0" fill="#ed1c24"/>
<circle cx="695.0" cy="575.4" r="8.0" fill="#ed1c24"/>
<circle cx="755.6" cy="554.6" r="10.4" fill="#ed1c24"/>
<circle cx="611.2" cy="595.4" r="19.2" fill="#ed1c24"/>
<circle cx="696.0" cy="642.0" r="12.6" fill="#ed1c24"/>
<circle cx="640.6" cy="729.4" r="21.6" fill="#ed1c24"/>
<circle cx="670.6" cy="752.0" r="24.0" fill="#ed1c24"/>
<circle cx="551.2" cy="744.6" r="9.8" fill="#ed1c24"/>
<circle cx="541.6" cy="791.6" r="11.4" fill="#ed1c24"/>
<circle cx="557.0" cy="897.4" r="8.2" fill="#ed1c24"/>
<circle cx="708.6" cy="822.0" r="11.1" fill="#ed1c24"/>
<circle cx="723.2" cy="849.5" r="10.3" fill="#ed1c24"/>
<circle cx="675.2" cy="881.2" r="10.6" fill="#ed1c24"/>
<circle cx="731.1" cy="893.2" r="12.9" fill="#ed1c24"/>
<circle cx="765.0" cy="942.0" r="8.3" fill="#ed1c24"/>
<circle cx="719.2" cy="954.5" r="8.3" fill="#ed1c24"/>
<circle cx="819.1" cy="971.8" r="11.8" fill="#ed1c24"/>
<circle cx="689.1" cy="987.3" r="8.5" fill="#ed1c24"/>
<circle cx="735.4" cy="1016.0" r="22.3" fill="#ed1c24"/>
<circle cx="786.9" cy="1026.8" r="8.9" fill="#ed1c24"/>
<circle cx="732.2" cy="1047.7" r="8.9" fill="#ed1c24"/>
<circle cx="678.2" cy="1109.4" r="11.7" fill="#ed1c24"/>
<circle cx="758.8" cy="1115.1" r="10.6" fill="#ed1c24"/>
<circle cx="808.3" cy="1116.3" r="7.9" fill="#f0666b"/>
<circle cx="729.4" cy="1147.2" r="8.6" fill="#ed1c24"/>
<circle cx="196.5" cy="731.7" r="13.7" fill="#ed1c24"/>
<circle cx="135.6" cy="778.5" r="13.5" fill="#ed1c24"/>
<circle cx="235.3" cy="838.1" r="8.3" fill="#ed1c24"/>
<circle cx="175.9" cy="874.5" r="17.5" fill="#ed1c24"/>
<circle cx="216.4" cy="883.1" r="19.8" fill="#ed1c24"/>
<circle cx="262.0" cy="896.8" r="8.5" fill="#ed1c24"/>
<circle cx="147.5" cy="913.0" r="13.1" fill="#ed1c24"/>
<circle cx="191.2" cy="929.0" r="13.1" fill="#ed1c24"/>
<circle cx="230.5" cy="926.5" r="8.0" fill="#ed1c24"/>
<circle cx="154.6" cy="963.4" r="18.4" fill="#ed1c24"/>
<circle cx="231.7" cy="962.9" r="12.3" fill="#ed1c24"/>
<circle cx="192.8" cy="982.4" r="13.1" fill="#ed1c24"/>
<circle cx="224.3" cy="1009.7" r="8.6" fill="#ed1c24"/>
<circle cx="304.7" cy="948.5" r="25.3" fill="#ed1c24"/>
<circle cx="308.1" cy="975.3" r="13.1" fill="#ed1c24"/>
<circle cx="326.7" cy="775.4" r="9.4" fill="#ed1c24"/>
<circle cx="371.1" cy="796.6" r="8.2" fill="#ed1c24"/>
<circle cx="416.7" cy="793.5" r="8.3" fill="#ed1c24"/>
<circle cx="376.9" cy="855.6" r="7.9" fill="#ed1c24"/>
<circle cx="433.1" cy="866.7" r="15.3" fill="#ed1c24"/>
<circle cx="345.0" cy="876.1" r="8.0" fill="#ed1c24"/>
<circle cx="395.6" cy="896.2" r="12.6" fill="#ed1c24"/>
<circle cx="415.6" cy="918.0" r="10.1" fill="#ed1c24"/>
<circle cx="335.8" cy="920.8" r="11.1" fill="#ed1c24"/>
<circle cx="362.4" cy="926.2" r="9.4" fill="#ed1c24"/>
<circle cx="386.4" cy="934.3" r="10.3" fill="#ed1c24"/>
<circle cx="437.5" cy="958.9" r="8.8" fill="#ed1c24"/>
<circle cx="366.7" cy="973.1" r="8.5" fill="#f0666b"/>
<circle cx="410.5" cy="987.8" r="8.0" fill="#ed1c24"/>
<circle cx="376.9" cy="1003.4" r="7.9" fill="#ed1c24"/>
<circle cx="432.5" cy="1010.3" r="8.5" fill="#ed1c24"/>
<circle cx="342.2" cy="1018.7" r="8.0" fill="#ed1c24"/>
<circle cx="377.8" cy="1036.1" r="8.0" fill="#f0666b"/>
<circle cx="417.9" cy="1087.4" r="13.3" fill="#ed1c24"/>
<circle cx="286.8" cy="1049.9" r="9.9" fill="#ed1c24"/>
<circle cx="336.2" cy="1073.9" r="8.3" fill="#ed1c24"/>
<circle cx="290.2" cy="1122.3" r="11.7" fill="#ed1c24"/>
<circle cx="181.0" cy="1166.4" r="8.4" fill="#ed1c24"/>
<circle cx="236.6" cy="1191.1" r="9.6" fill="#ed1c24"/>
<circle cx="286.0" cy="1195.9" r="9.4" fill="#ed1c24"/>
<circle cx="336.7" cy="1199.1" r="9.6" fill="#ed1c24"/>
<circle cx="234.5" cy="1241.5" r="9.6" fill="#ed1c24"/>
<circle cx="326.1" cy="1250.1" r="9.6" fill="#ed1c24"/>
<circle cx="278.4" cy="1266.9" r="9.6" fill="#ed1c24"/>
<circle cx="921.3" cy="214.3" r="8.0" fill="#ed1c24"/>
<circle cx="922.0" cy="270.9" r="8.0" fill="#ed1c24"/>
<circle cx="987.8" cy="270.9" r="9.6" fill="#ed1c24"/>
<circle cx="1052.5" cy="270.9" r="8.0" fill="#f0666b"/>
<circle cx="149.6" cy="460.5" r="8.0" fill="#ed1c24"/>
<circle cx="149.6" cy="602.0" r="8.0" fill="#f0666b"/>
<circle cx="989.9" cy="487.1" r="8.0" fill="#4068b2"/>
<circle cx="927.0" cy="543.1" r="8.0" fill="#4068b2"/>
<circle cx="1007.0" cy="569.7" r="8.0" fill="#4068b2"/>
<circle cx="1197.1" cy="484.7" r="10.0" fill="#4068b2"/>
<circle cx="1135.1" cy="542.0" r="10.6" fill="#4068b2"/>
<circle cx="1215.3" cy="567.0" r="10.6" fill="#4068b2"/>
<circle cx="1390.9" cy="489.5" r="8.6" fill="#4068b2"/>
<circle cx="1391.5" cy="573.5" r="11.3" fill="#4068b2"/>
<circle cx="1003.0" cy="788.4" r="17.2" fill="#ed1c24"/>
<circle cx="1081.9" cy="795.9" r="9.0" fill="#ed1c24"/>
<circle cx="963.0" cy="841.3" r="19.4" fill="#ed1c24"/>
<circle cx="1034.5" cy="840.0" r="11.3" fill="#f0666b"/>
<circle cx="1025.7" cy="887.4" r="25.6" fill="#ed1c24"/>
<circle cx="1027.0" cy="944.8" r="15.7" fill="#ed1c24"/>
<circle cx="1177.8" cy="953.7" r="20.6" fill="#ed1c24"/>
<circle cx="1192.5" cy="1033.1" r="10.6" fill="#ed1c24"/>
<circle cx="1267.1" cy="917.7" r="9.9" fill="#ed1c24"/>
<circle cx="1305.7" cy="909.1" r="8.6" fill="#ed1c24"/>
<circle cx="1323.7" cy="933.5" r="10.3" fill="#ed1c24"/>
<circle cx="1349.7" cy="931.9" r="15.4" fill="#ed1c24"/>
<circle cx="1368.6" cy="952.9" r="15.4" fill="#ed1c24"/>
<circle cx="1253.4" cy="952.5" r="8.7" fill="#ed1c24"/>
<circle cx="1282.9" cy="956.5" r="8.7" fill="#ed1c24"/>
<circle cx="1305.7" cy="967.4" r="11.1" fill="#f0666b"/>
<circle cx="1339.1" cy="973.8" r="16.3" fill="#ed1c24"/>
<circle cx="1367.7" cy="989.0" r="20.6" fill="#ed1c24"/>
<circle cx="1261.4" cy="979.9" r="8.7" fill="#ed1c24"/>
<circle cx="1281.2" cy="997.6" r="8.2" fill="#ed1c24"/>
<circle cx="1244.3" cy="1002.8" r="8.4" fill="#ed1c24"/>
<circle cx="1353.2" cy="1010.3" r="18.0" fill="#ed1c24"/>
<circle cx="1265.2" cy="1024.5" r="9.4" fill="#ed1c24"/>
<circle cx="1303.4" cy="1039.4" r="25.7" fill="#ed1c24"/>
<circle cx="1328.3" cy="1044.6" r="20.9" fill="#ed1c24"/>
<circle cx="1434.8" cy="951.7" r="8.4" fill="#ed1c24"/>
<circle cx="1431.3" cy="987.4" r="8.4" fill="#ed1c24"/>
<circle cx="1419.6" cy="1019.0" r="10.5" fill="#ed1c24"/>
<circle cx="1498.3" cy="863.5" r="13.2" fill="#f0666b"/>
<circle cx="1561.4" cy="898.5" r="12.7" fill="#ed1c24"/>
<circle cx="1501.9" cy="912.1" r="11.0" fill="#ed1c24"/>
<circle cx="1520.9" cy="964.5" r="22.3" fill="#ed1c24"/>
<circle cx="1616.6" cy="1001.2" r="11.1" fill="#ed1c24"/>
<circle cx="1529.2" cy="1015.4" r="15.4" fill="#ed1c24"/>
<circle cx="1260.6" cy="1084.4" r="10.3" fill="#ed1c24"/>
<circle cx="1299.9" cy="1096.5" r="10.3" fill="#ed1c24"/>
<circle cx="1345.9" cy="1103.5" r="10.3" fill="#ed1c24"/>
<circle cx="1238.5" cy="1112.1" r="10.3" fill="#ed1c24"/>
<circle cx="1273.1" cy="1126.6" r="9.9" fill="#ed1c24"/>
<circle cx="1326.0" cy="1131.5" r="9.9" fill="#ed1c24"/>
<circle cx="1362.1" cy="1141.8" r="9.9" fill="#ed1c24"/>
<circle cx="1242.9" cy="1154.7" r="9.9" fill="#ed1c24"/>
<circle cx="1299.3" cy="1154.6" r="9.9" fill="#ed1c24"/>
<circle cx="1342.5" cy="1170.4" r="9.9" fill="#ed1c24"/>
<circle cx="1271.8" cy="1177.1" r="9.9" fill="#ed1c24"/>
<circle cx="1311.0" cy="1190.3" r="9.9" fill="#ed1c24"/>
</g>
</svg>
</body></html>
